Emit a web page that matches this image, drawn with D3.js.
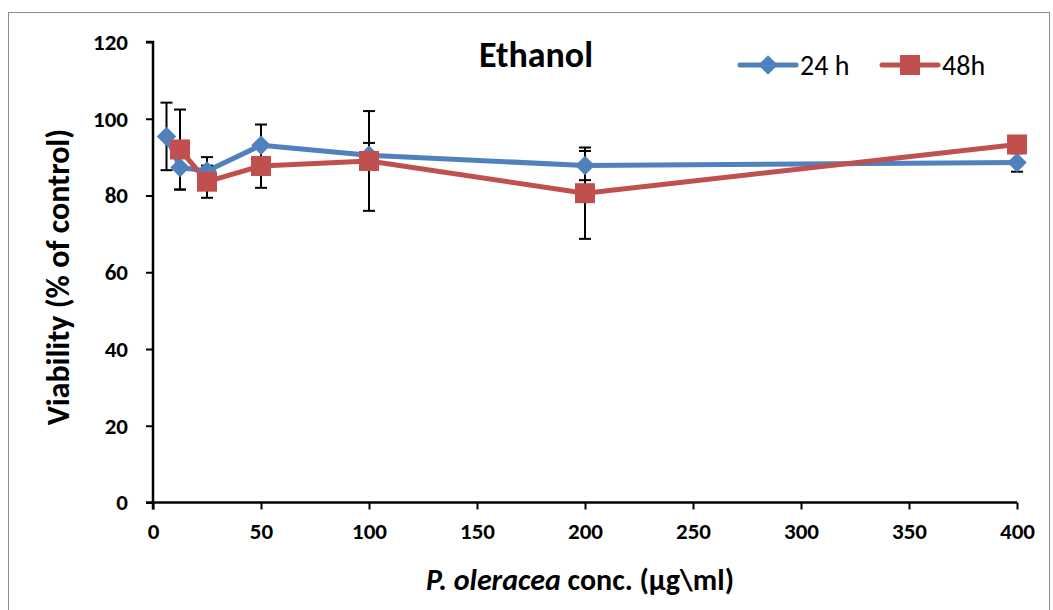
<!DOCTYPE html>
<html>
<head>
<meta charset="utf-8">
<script src="https://cdn.jsdelivr.net/npm/d3@7"></script>
<style>
  html, body { margin: 0; padding: 0; background: #fff; }
  svg { display: block; font-family: Carlito, Lato, "Open Sans", sans-serif; }
</style>
</head>
<body>
<svg id="chart" width="1053" height="610"></svg>
<script>
// Concentrations (µg/ml) and viability (% of control) with error bars
const concentrations = [6.25, 12.5, 25, 50, 100, 200, 400];
const viability24 = [95.4, 87.3, 86.4, 93.1, 90.5, 87.8, 88.6];
const error24 = [8.8, 5.8, 3.6, 5.4, 3.2, 3.8, 2.4];
const concentrations48 = [12.5, 25, 50, 100, 200, 400];
const viability48 = [92.0, 83.6, 87.7, 89.0, 80.6, 93.3];
const error48 = [10.4, 4.2, 5.7, 13.0, 11.9, 1.5];
const xTicks = [0, 50, 100, 150, 200, 250, 300, 350, 400];
const yTicks = [0, 20, 40, 60, 80, 100, 120];
const seriesNames = ["24 h", "48h"];
const seriesColors = ["#4F81BD", "#C0504D"];

const svg = d3.select("#chart");

// outer chart frame
svg.append("rect")
  .attr("x", 8.5).attr("y", 12.5)
  .attr("width", 1041).attr("height", 620)
  .attr("fill", "none").attr("stroke", "#8c8c8c").attr("stroke-width", 1);

const x = d3.scaleLinear().domain([0, 400]).range([153, 1017]);
const y = d3.scaleLinear().domain([0, 120]).range([502.5, 42]);

// axes
const xAxis = svg.append("g")
  .attr("transform", `translate(0,${y(0)})`)
  .call(d3.axisBottom(x).tickValues(xTicks).tickSize(7).tickPadding(13).tickFormat(d3.format("d")));
const yAxis = svg.append("g")
  .attr("transform", `translate(${x(0)},0)`)
  .call(d3.axisLeft(y).tickValues(yTicks).tickSize(7).tickPadding(18).tickFormat(d3.format("d")));
[xAxis, yAxis].forEach(g => {
  g.attr("font-size", null).attr("font-family", null);
  g.select(".domain").attr("stroke", "#000").attr("stroke-width", 2.5);
  g.selectAll(".tick line").attr("stroke", "#000").attr("stroke-width", 2);
  g.selectAll(".tick text")
    .attr("fill", "#000")
    .style("font-size", "23px")
    .style("font-weight", "bold");
});
xAxis.select(".domain").attr("d", `M${x(0) - 7},0H${x(400)}`);
yAxis.select(".domain").attr("d", `M0,${y(0) + 7}V${y(120)}H-7`);

const series = [
  { name: seriesNames[0], color: seriesColors[0], xs: concentrations, ys: viability24, es: error24, shape: "diamond" },
  { name: seriesNames[1], color: seriesColors[1], xs: concentrations48, ys: viability48, es: error48, shape: "square" }
];

function drawMarker(g, s, cx, cy) {
  if (s.shape === "square") {
    g.append("rect")
      .attr("x", cx - 10).attr("y", cy - 10)
      .attr("width", 20).attr("height", 20)
      .attr("fill", s.color);
  } else {
    g.append("path")
      .attr("d", d3.symbol().type(d3.symbolSquare).size(190)())
      .attr("transform", `translate(${cx},${cy}) rotate(45)`)
      .attr("fill", s.color);
  }
}

// connecting lines
series.forEach(s => {
  const pts = s.xs.map((c, i) => [x(c), y(s.ys[i])]);
  svg.append("path")
    .attr("d", d3.line()(pts))
    .attr("fill", "none")
    .attr("stroke", s.color)
    .attr("stroke-width", 5)
    .attr("stroke-linejoin", "round");
});

// error bars
series.forEach(s => {
  const g = svg.append("g");
  s.xs.forEach((c, i) => {
    const cx = x(c), top = y(s.ys[i] + s.es[i]), bot = y(s.ys[i] - s.es[i]);
    g.append("line").attr("x1", cx).attr("x2", cx).attr("y1", top).attr("y2", bot)
      .attr("stroke", "#000").attr("stroke-width", 2);
    [top, bot].forEach(yy => g.append("line")
      .attr("x1", cx - 6).attr("x2", cx + 6).attr("y1", yy).attr("y2", yy)
      .attr("stroke", "#000").attr("stroke-width", 2));
  });
});

// markers
series.forEach(s => {
  const g = svg.append("g");
  s.xs.forEach((c, i) => drawMarker(g, s, x(c), y(s.ys[i])));
});

// title
svg.append("text")
  .attr("x", 536).attr("y", 67)
  .attr("text-anchor", "middle")
  .style("font-size", "36px").style("font-weight", "bold")
  .text("Ethanol");

// legend
const legendX = [740, 882];
series.forEach((s, i) => {
  const lx = legendX[i], ly = 65;
  svg.append("line").attr("x1", lx).attr("x2", lx + 56).attr("y1", ly).attr("y2", ly)
    .attr("stroke", s.color).attr("stroke-width", 5).attr("stroke-linecap", "round");
  drawMarker(svg, s, lx + 28, ly);
  svg.append("text").attr("x", lx + 60).attr("y", ly + 10)
    .style("font-size", "28px").text(s.name);
});

// axis titles
svg.append("text")
  .attr("transform", `translate(69,277) rotate(-90)`)
  .attr("text-anchor", "middle")
  .style("font-size", "32px").style("font-weight", "bold")
  .text("Viability (% of control)");

const xt = svg.append("text")
  .attr("x", 580).attr("y", 590)
  .attr("text-anchor", "middle")
  .style("font-size", "30px").style("font-weight", "bold");
xt.append("tspan").style("font-style", "italic").text("P. oleracea");
xt.append("tspan").text(" conc. (µg\\ml)");
</script>
</body>
</html>
